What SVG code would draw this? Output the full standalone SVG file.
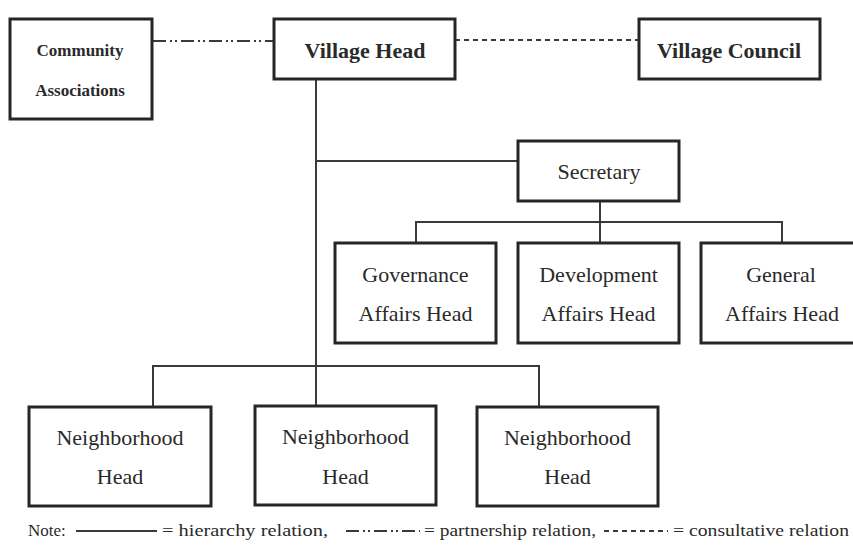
<svg xmlns="http://www.w3.org/2000/svg" width="853" height="545" viewBox="0 0 853 545">
<style>
.box{fill:#fff;stroke:#262626;stroke-width:3}
.t{font-family:"Liberation Serif","Times New Roman",serif;font-size:22px;fill:#2a2a2a;text-anchor:middle}
.ts{font-family:"Liberation Serif","Times New Roman",serif;font-size:17px;fill:#2a2a2a;text-anchor:middle}
.lg{font-family:"Liberation Serif","Times New Roman",serif;font-size:17px;fill:#2a2a2a}
.h{fill:none;stroke:#3a3a3a;stroke-width:2}
.p{fill:none;stroke:#3a3a3a;stroke-width:2;stroke-dasharray:13 4 2 3 2 4}
.c{fill:none;stroke:#3a3a3a;stroke-width:2;stroke-dasharray:5 4}
</style>
<rect width="853" height="545" fill="#fff"/>
<g id="connectors">
<path class="h" d="M316 79V406M316 161H518M600 201V243M416 243V222H782V243M153 407V366H539V407"/>
<path class="p" d="M153 41H274"/>
<path class="c" d="M455 40H639"/>
</g>
<g id="community">
<rect class="box" x="10" y="19" width="142" height="100"/>
<text class="ts" x="80" y="56" font-weight="bold">Community</text>
<text class="ts" x="80" y="96" font-weight="bold">Associations</text>
</g>
<g id="village-head">
<rect class="box" x="274" y="19" width="181" height="60"/>
<text class="t" x="365" y="58" font-weight="bold">Village Head</text>
</g>
<g id="village-council">
<rect class="box" x="639" y="19" width="181" height="60"/>
<text class="t" x="729" y="58" font-weight="bold">Village Council</text>
</g>
<g id="secretary">
<rect class="box" x="518" y="141" width="161" height="60"/>
<text class="t" x="599" y="179">Secretary</text>
</g>
<g id="governance">
<rect class="box" x="335" y="243" width="161" height="100"/>
<text class="t" x="415.5" y="282">Governance</text>
<text class="t" x="415.5" y="321">Affairs Head</text>
</g>
<g id="development">
<rect class="box" x="518" y="243" width="161" height="100"/>
<text class="t" x="598.5" y="282">Development</text>
<text class="t" x="598.5" y="321">Affairs Head</text>
</g>
<g id="general">
<rect class="box" x="701" y="243" width="161" height="100"/>
<text class="t" x="781" y="282">General</text>
<text class="t" x="782" y="321">Affairs Head</text>
</g>
<g id="neighborhood1">
<rect class="box" x="29" y="407" width="182" height="99"/>
<text class="t" x="120" y="445">Neighborhood</text>
<text class="t" x="120" y="484">Head</text>
</g>
<g id="neighborhood2">
<rect class="box" x="255" y="406" width="181" height="99"/>
<text class="t" x="345.5" y="444">Neighborhood</text>
<text class="t" x="345.5" y="484">Head</text>
</g>
<g id="neighborhood3">
<rect class="box" x="477" y="407" width="181" height="99"/>
<text class="t" x="567.5" y="445">Neighborhood</text>
<text class="t" x="567.5" y="484">Head</text>
</g>
<g id="legend">
<text class="lg" x="28" y="536">Note:</text>
<path class="h" d="M76 531H157"/>
<text class="lg" x="162" y="536" textLength="166" lengthAdjust="spacingAndGlyphs">= hierarchy relation,</text>
<path class="p" d="M346 531H420"/>
<text class="lg" x="424" y="536" textLength="172" lengthAdjust="spacingAndGlyphs">= partnership relation,</text>
<path class="c" d="M604 531H668"/>
<text class="lg" x="673" y="536" textLength="176" lengthAdjust="spacingAndGlyphs">= consultative relation</text>
</g>
</svg>
